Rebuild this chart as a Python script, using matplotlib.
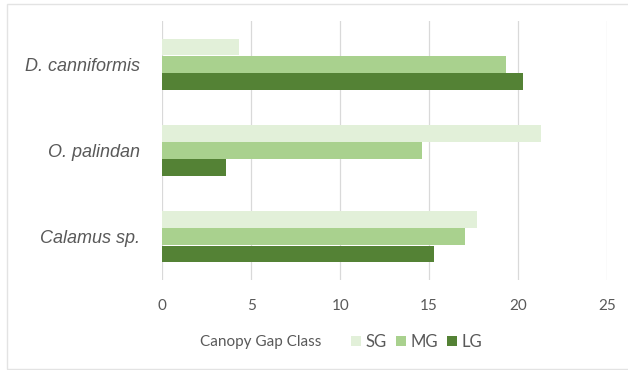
import numpy as np
import matplotlib as mpl
mpl.use("Agg")
import matplotlib.pyplot as plt
from matplotlib.patches import Rectangle

##~~~~~~~~ Data ~~~~~~~~~~~~
species = ["Calamus sp.", "O. palindan", "D. canniformis"]
gap_classes = ["SG", "MG", "LG"]
sg = [17.7, 21.3, 4.3]
mg = [17.0, 14.6, 19.3]
lg = [15.3, 3.6, 20.3]
xticks = [0, 5, 10, 15, 20, 25]
##~~~~~~~~~~~~~~~~~~~~~~~~~~

colors = {"SG": "#e2f0d9", "MG": "#a9d18e", "LG": "#548235"}
text_col = "#595959"
tick_font = "Lato"

fig = plt.figure(figsize=(6.28, 3.70), dpi=100)
ax = fig.add_axes([162.3/628, 1-280/370, (607-162.3)/628, (280-21)/370])

y = np.arange(len(species))
h = 0.2
series = {"SG": sg, "MG": mg, "LG": lg}
for i, g in enumerate(gap_classes):
    ax.barh(y + (1-i)*h, series[g], height=h*0.97, color=colors[g], label=g, zorder=2)

ax.set_xlim(0, 25)
ax.set_ylim(-0.5, 2.5)
ax.set_xticks(xticks)
ax.set_xticklabels([str(t) for t in xticks], fontsize=11, color=text_col, family=tick_font)
ax.set_yticks(y)
ax.set_yticklabels(species, fontsize=13, color=text_col, style="italic", family="Liberation Sans")
ax.tick_params(axis="both", length=0)
ax.tick_params(axis="x", pad=14)
ax.tick_params(axis="y", pad=16)
ax.grid(axis="x", color="#d9d9d9", lw=0.9, zorder=0)
for s in ax.spines.values():
    s.set_visible(False)

# outer chart border
fig.patches.append(Rectangle((7/628, 1-369/370), 1.0, (369-4)/370, transform=fig.transFigure,
                             fill=False, ec="#e3e3e3", lw=1.0))

fig.text(200/628, 1-342/370, "Canopy Gap Class", fontsize=11, color=text_col,
         family=tick_font, va="center", ha="left")
leg = fig.legend(loc="center left", bbox_to_anchor=(351/628, 1-342/370), ncol=3, frameon=False,
                 handlelength=0.6, handleheight=0.6, handletextpad=0.3, columnspacing=0.5,
                 borderpad=0, borderaxespad=0, prop={"family": tick_font, "size": 12})
for t in leg.get_texts():
    t.set_color(text_col)

plt.savefig("out.png", dpi=100)
